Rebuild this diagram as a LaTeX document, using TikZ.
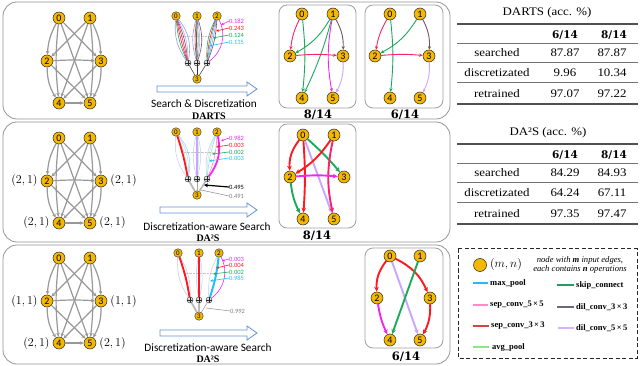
\documentclass[tikz,border=0pt]{standalone}
\usepackage{fontspec}
\usetikzlibrary{arrows.meta,calc,positioning}
\newfontfamily\carl{Carlito}
\newfontfamily\tabf{DejaVu Serif}
\newfontfamily\tabs[FakeStretch=1.12]{Liberation Serif}
\newfontfamily\tser{Liberation Serif}
\definecolor{nodeyellow}{RGB}{245,184,0}
\definecolor{edgegray}{RGB}{152,152,152}
\definecolor{panelgray}{RGB}{150,150,150}
\definecolor{arrblue}{RGB}{100,145,215}
\definecolor{cpink}{RGB}{250,35,105}
\definecolor{cgreen}{RGB}{25,170,90}
\definecolor{cdark}{RGB}{115,85,100}
\definecolor{cmag}{RGB}{240,40,240}
\definecolor{clav}{RGB}{200,165,255}
\definecolor{cred}{RGB}{255,25,30}
\definecolor{ccyan}{RGB}{40,190,245}
\definecolor{lblue}{RGB}{135,165,225}
\definecolor{lgreen}{RGB}{140,225,140}
\definecolor{lgpool}{RGB}{140,230,140}
\definecolor{lgmax}{RGB}{45,185,240}
\definecolor{lgskip}{RGB}{30,160,95}
\definecolor{lgsepfive}{RGB}{255,140,200}
\definecolor{lgdilthree}{RGB}{105,105,120}
\definecolor{lgsepthree}{RGB}{210,70,70}
\definecolor{lgdilfive}{RGB}{210,180,255}
\definecolor{rulegray}{RGB}{80,80,80}
\tikzset{
  gnode/.style={circle, draw=black!85, fill=nodeyellow, line width=0.5pt, minimum size=12pt, inner sep=0pt, font=\carl\fontsize{10}{10}\selectfont},
  snode/.style={circle, draw=black!85, fill=nodeyellow, line width=0.4pt, minimum size=8.5pt, inner sep=0pt, font=\carl\fontsize{7}{7}\selectfont},
  pnode/.style={circle, draw=black!85, fill=gray!25, line width=0.4pt, minimum size=6pt, inner sep=0pt, path picture={\draw[black!85,line width=0.35pt] (path picture bounding box.north) -- (path picture bounding box.south) (path picture bounding box.west) -- (path picture bounding box.east);}},
  fulledge/.style={edgegray, line width=1.2pt, -{Stealth[length=4pt,width=3.6pt]}},
  thinedge/.style={line width=0.9pt, -{Stealth[length=3.6pt,width=3.2pt]}},
  thickedge/.style={line width=1.9pt, -{Stealth[length=5pt,width=4.6pt]}},
  panel/.style={draw=panelgray, line width=0.8pt, rounded corners=14pt},
  subbox/.style={draw=gray!75, line width=0.8pt, rounded corners=8pt},
  bigarrow/.style={draw=arrblue, line width=0.8pt, fill=white},
  optext/.style={font=\carl\fontsize{11.3}{12}\selectfont, inner sep=0pt},
  methtext/.style={font=\tser\bfseries\fontsize{10}{10}\selectfont, inner sep=0pt},
  fractext/.style={font=\tabf\bfseries\fontsize{11.5}{12}\selectfont, inner sep=0pt},
  wlabel/.style={anchor=west, inner sep=0pt, font=\carl\fontsize{6.5}{6.5}\selectfont},
  warrow/.style={line width=0.6pt, -{Stealth[length=3pt,width=2.6pt]}},
  mlabel/.style={inner sep=0pt, font=\fontsize{13}{13}\selectfont},
  tabtext/.style={inner sep=0pt, font=\tabs\fontsize{11.5}{12}\selectfont},
  tabhead/.style={inner sep=0pt, font=\tabf\bfseries\fontsize{10.5}{11}\selectfont},
  toprulestyle/.style={rulegray, line width=1.1pt},
  midrulestyle/.style={rulegray!80, line width=0.8pt},
  legline/.style={line width=1.3pt},
  legtext/.style={anchor=west, inner sep=0pt, font=\tser\bfseries\fontsize{8.5}{9}\selectfont},
  legital/.style={inner sep=0pt, font=\tser\itshape\fontsize{8.6}{9}\selectfont},
  faint/.style={line width=0.5pt, opacity=0.55},
}
\newcommand\fullgraph[2]{%
  \node[gnode] (#1n0) at (59,-#2) {0};
  \node[gnode] (#1n1) at (90,-#2) {1};
  \node[gnode] (#1n2) at (47,{-#2-43}) {2};
  \node[gnode] (#1n3) at (101,{-#2-43}) {3};
  \node[gnode] (#1n4) at (59,{-#2-85}) {4};
  \node[gnode] (#1n5) at (90,{-#2-85}) {5};
  \draw[fulledge] (#1n0) to[bend right=12] (#1n2);
  \draw[fulledge] (#1n0) -- (#1n3);
  \draw[fulledge] (#1n0) to[bend right=6] (#1n4);
  \draw[fulledge] (#1n0) -- (#1n5);
  \draw[fulledge] (#1n1) -- (#1n2);
  \draw[fulledge] (#1n1) to[bend left=12] (#1n3);
  \draw[fulledge] (#1n1) -- (#1n4);
  \draw[fulledge] (#1n1) to[bend left=6] (#1n5);
  \draw[fulledge] (#1n2) to[bend left=3] (#1n3);
  \draw[fulledge] (#1n2) to[bend right=15] (#1n4);
  \draw[fulledge] (#1n2) -- (#1n5);
  \draw[fulledge] (#1n3) -- (#1n4);
  \draw[fulledge] (#1n3) to[bend left=15] (#1n5);
  \draw[fulledge] (#1n4) -- (#1n5);
}
\newcommand\cellnodes[3]{%
  \node[snode] (#1t0) at ({#2-21},-#3) {0};
  \node[snode] (#1t1) at (#2,-#3) {1};
  \node[snode] (#1t2) at ({#2+20},-#3) {2};
  \node[pnode] (#1p0) at ({#2-9},{-#3-47}) {};
  \node[pnode] (#1p1) at (#2,{-#3-47}) {};
  \node[pnode] (#1p2) at ({#2+10},{-#3-47}) {};
  \node[snode] (#1o) at (#2,{-#3-63}) {3};
  \draw[gray!45, densely dotted, line width=0.4pt] ($(#1t0)!0.42!(#1p0)$) -- ($(#1t2)!0.42!(#1p2)$);
}
\newcommand\boxnodes[6]{%
  \node[gnode] (#1n0) at (#2,-#6) {0};
  \node[gnode] (#1n1) at (#3,-#6) {1};
  \node[gnode] (#1n2) at (#4,{-#6-42}) {2};
  \node[gnode] (#1n3) at (#5,{-#6-42}) {3};
  \node[gnode] (#1n4) at (#2,{-#6-84}) {4};
  \node[gnode] (#1n5) at (#3,{-#6-84}) {5};
}
\begin{document}
\begin{tikzpicture}[x=1pt,y=1pt]
\fill[white] (0,0) rectangle (640,-366);
\useasboundingbox (0,0) rectangle (640,-366);
% panels
\draw[panel] (3,-2) rectangle (450,-119);
\draw[panel] (3,-122) rectangle (450,-242);
\draw[panel] (3,-245) rectangle (450,-364);
% full graphs
\fullgraph{pa}{18}
\fullgraph{pb}{138}
\fullgraph{pc}{258}
\node[mlabel, left=3pt of pbn2] (pbl2) {$(2,1)$};
\node[mlabel, right=3pt of pbn3] (pbl3) {$(2,1)$};
\node[mlabel, left=3pt of pbn4] (pbl4) {$(2,1)$};
\node[mlabel, right=3pt of pbn5] (pbl5) {$(2,1)$};
\node[mlabel, left=3pt of pcn2] (pcl2) {$(1,1)$};
\node[mlabel, right=3pt of pcn3] (pcl3) {$(1,1)$};
\node[mlabel, left=3pt of pcn4] (pcl4) {$(2,1)$};
\node[mlabel, right=3pt of pcn5] (pcl5) {$(2,1)$};
% ---------- cell 1 (DARTS)
\cellnodes{ca}{197}{16}
\foreach \cc/\bb in {lblue/-20,cgreen/-10,cred/-4,cpink/2,cdark/8,clav/14,lblue/24}
  \draw[\cc, line width=0.6pt] (cat0) to[bend left=\bb] (cap0);
\foreach \cc/\bb in {lblue/-16,cred/-7,cdark/-2,cgreen/4,clav/10,cdark/18}
  \draw[\cc, line width=0.6pt] (cat1) to[bend left=\bb] (cap1);
\foreach \cc/\bb in {cgreen/-14,cred/-8,ccyan/-3,lblue/3,cdark/9,cmag/40}
  \draw[\cc, line width=0.6pt] (cat2) to[bend left=\bb] (cap2);
\draw[black!80, line width=0.5pt] (cap0) -- (cao);
\draw[black!80, line width=0.5pt] (cap1) -- (cao);
\draw[black!80, line width=0.5pt] (cap2) -- (cao);
\node[wlabel, text=cmag] (cal1) at (229,-21) {0.182};
\node[wlabel, text=cred] (cal2) at (229,-28) {0.243};
\node[wlabel, text=cgreen] (cal3) at (229,-35) {0.124};
\node[wlabel, text=ccyan] (cal4) at (229,-42) {0.135};
\coordinate (caa1) at (221,-25);
\coordinate (caa2) at (216,-31);
\coordinate (caa3) at (213,-38);
\coordinate (caa4) at (209,-46);
\draw[warrow, cmag] (cal1.west) -- (caa1);
\draw[warrow, cred] (cal2.west) -- (caa2);
\draw[warrow, cgreen] (cal3.west) -- (caa3);
\draw[warrow, ccyan] (cal4.west) -- (caa4);
% ---------- cell 2 (DA2S)
\cellnodes{cb}{197}{132}
\foreach \cc/\bb in {lblue/-20,lblue/18,lgreen/10,ccyan/25}
  \draw[\cc, faint] (cbt0) to[bend left=\bb] (cbp0);
\draw[cred, line width=1.8pt] (cbt0) to[bend left=4] (cbp0);
\foreach \cc/\bb in {lblue/-14,lblue/14,lgreen/6}
  \draw[\cc, faint] (cbt1) to[bend left=\bb] (cbp1);
\draw[clav, line width=1.6pt] (cbt1) -- (cbp1);
\foreach \cc/\bb in {ccyan/-6,lgreen/-12,lblue/-18,cpink/10}
  \draw[\cc, faint] (cbt2) to[bend left=\bb] (cbp2);
\draw[cmag, line width=1.8pt] (cbt2) to[bend left=24] (cbp2);
\draw[gray!55, line width=1.8pt] (cbp0) -- (cbo);
\draw[gray!70, line width=0.6pt] (cbp1) -- (cbo);
\draw[gray!55, line width=1.6pt] (cbp2) -- (cbo);
\node[wlabel, text=cmag] (cbl1) at (229,-138) {0.982};
\node[wlabel, text=cred] (cbl2) at (229,-145) {0.003};
\node[wlabel, text=cgreen] (cbl3) at (229,-152) {0.002};
\node[wlabel, text=ccyan] (cbl4) at (229,-158) {0.003};
\node[wlabel, text=black] (cbl5) at (229,-187) {0.495};
\node[wlabel, text=gray] (cbl6) at (229,-196) {0.491};
\coordinate (cba1) at (221,-141);
\coordinate (cba2) at (216,-147);
\coordinate (cba3) at (212,-154);
\coordinate (cba4) at (209,-161);
\coordinate (cba5) at (204,-185);
\coordinate (cba6) at (201,-190);
\draw[warrow, cmag] (cbl1.west) -- (cba1);
\draw[warrow, cred] (cbl2.west) -- (cba2);
\draw[warrow, cgreen] (cbl3.west) -- (cba3);
\draw[warrow, ccyan] (cbl4.west) -- (cba4);
\draw[black, line width=1.2pt, -{Stealth[length=4pt,width=4pt]}] (cbl5.west) -- (cba5);
\draw[gray!80, line width=0.6pt] (cbl6.west) -- (cba6);
% ---------- cell 3 (DA2S)
\cellnodes{cc}{199}{253}
\foreach \cc/\bb in {lblue/-18,lblue/16}
  \draw[\cc, faint] (cct0) to[bend left=\bb] (ccp0);
\draw[cred, line width=1.9pt] (cct0) to[bend left=5] (ccp0);
\foreach \cc/\bb in {lblue/-10,lblue/12}
  \draw[\cc, faint] (cct1) to[bend left=\bb] (ccp1);
\draw[cred, line width=1.9pt] (cct1) -- (ccp1);
\draw[lblue, faint] (cct2) to[bend left=-15] (ccp2);
\draw[cmag, line width=0.6pt] (cct2) to[bend left=40] (ccp2);
\draw[ccyan, line width=2pt] (cct2) to[bend left=6] (ccp2);
\draw[gray!55, line width=1.8pt] (ccp0) -- (cco);
\draw[gray!55, line width=1.8pt] (ccp1) -- (cco);
\draw[gray!70, line width=0.6pt] (ccp2) -- (cco);
\node[wlabel, text=cmag] (ccl1) at (229,-259) {0.003};
\node[wlabel, text=cred] (ccl2) at (229,-265) {0.004};
\node[wlabel, text=cgreen] (ccl3) at (229,-272) {0.002};
\node[wlabel, text=ccyan] (ccl4) at (229,-278) {0.985};
\node[wlabel, text=gray] (ccl5) at (230,-311) {0.992};
\coordinate (cca1) at (222,-261);
\coordinate (cca2) at (216,-268);
\coordinate (cca3) at (213,-274);
\coordinate (cca4) at (210,-281);
\coordinate (cca5) at (206,-308);
\draw[warrow, cmag] (ccl1.west) -- (cca1);
\draw[warrow, cred] (ccl2.west) -- (cca2);
\draw[warrow, cgreen] (ccl3.west) -- (cca3);
\draw[warrow, ccyan] (ccl4.west) -- (cca4);
\draw[gray!80, line width=0.6pt] (ccl5.west) -- (cca5);
% ---------- big arrows and texts
\draw[bigarrow] (157,-86) -- (247,-86) -- (247,-82) -- (257,-89) -- (247,-96) -- (247,-92) -- (157,-92) -- cycle;
\draw[bigarrow] (160,-207) -- (247,-207) -- (247,-203) -- (257,-210) -- (247,-217) -- (247,-213) -- (160,-213) -- cycle;
\draw[bigarrow] (160,-330) -- (247,-330) -- (247,-326) -- (257,-333) -- (247,-340) -- (247,-336) -- (160,-336) -- cycle;
\node[optext] (ta1) at (204,-104) {Search \& Discretization};
\node[methtext] (tm1) at (209,-116) {DARTS};
\node[optext] (ta2) at (207,-227) {Discretization-aware Search};
\node[methtext] (tm2) at (208,-238) {DA²S};
\node[optext] (ta3) at (208,-348) {Discretization-aware Search};
\node[methtext] (tm3) at (208,-359) {DA²S};
% ---------- sub boxes
\draw[subbox] (279,-5) rectangle (356,-108);
\draw[subbox] (365,-5) rectangle (443,-108);
\draw[subbox] (279,-124) rectangle (356,-228);
\draw[subbox] (365,-248) rectangle (443,-348);
\boxnodes{ba}{302}{333}{290}{343}{14}
\boxnodes{bb}{390}{420}{375}{429}{14}
\boxnodes{bc}{303}{334}{290}{344}{135}
\boxnodes{bd}{390}{420}{377}{430}{256}
\draw[thinedge,cpink] (ban0) to[bend right=10] (ban2);
\draw[thinedge,cgreen] (ban0) to[bend left=6] (ban4);
\draw[thinedge,cgreen] (ban1) to[bend left=15] (ban2);
\draw[thinedge,cgreen] (ban1) to[bend left=5] (ban4);
\draw[thinedge,cdark] (ban1) to[bend left=15] (ban3);
\draw[thinedge,cmag] (ban1) to[bend right=10] (ban5);
\draw[thinedge,cpink] (ban2) to[bend left=5] (ban3);
\draw[thinedge,clav] (ban3) to[bend left=15] (ban5);
\draw[thinedge,cpink] (bbn0) to[bend right=10] (bbn2);
\draw[thinedge,cgreen] (bbn0) to[bend left=6] (bbn4);
\draw[thinedge,cgreen] (bbn1) to[bend left=15] (bbn2);
\draw[thinedge,cdark] (bbn1) to[bend left=15] (bbn3);
\draw[thinedge,cpink] (bbn2) to[bend left=5] (bbn3);
\draw[thinedge,clav] (bbn3) to[bend left=15] (bbn5);
\draw[thickedge,cred] (bcn0) to[bend right=20] (bcn2);
\draw[thickedge,cred] (bcn0) to[bend left=4] (bcn4);
\draw[thickedge,cgreen] (bcn0) to[bend left=4] (bcn3);
\draw[thickedge,clav] (bcn0) -- (bcn5);
\draw[thickedge,cred] (bcn1) to[bend left=12] (bcn2);
\draw[thickedge,cpink] (bcn1) to[bend right=12] (bcn5);
\draw[thickedge,cmag] (bcn2) to[bend left=5] (bcn3);
\draw[thickedge,cgreen] (bcn2) to[bend right=10] (bcn4);
\draw[thickedge,cred] (bdn0) to[bend right=20] (bdn2);
\draw[thickedge,cred] (bdn0) to[bend left=20] (bdn3);
\draw[thickedge,clav] (bdn0) -- (bdn5);
\draw[thickedge,cgreen] (bdn1) -- (bdn4);
\draw[thickedge,cmag] (bdn2) to[bend right=8] (bdn4);
\draw[thickedge,cred] (bdn3) to[bend left=15] (bdn5);
\node[fractext] (fa) at (318,-115) {8/14};
\node[fractext] (fb) at (405,-115) {6/14};
\node[fractext] (fc) at (317,-236) {8/14};
\node[fractext] (fd) at (406,-357) {6/14};
% ---------- table 1
\node[tabtext] (t1t) at (547,-13) {DARTS (acc. \%)};
\draw[toprulestyle] (457,-24) -- (638,-24);
\node[tabhead] (t1h1) at (565,-35) {6/14};
\node[tabhead] (t1h2) at (614,-35) {8/14};
\draw[midrulestyle] (457,-43) -- (638,-43);
\node[tabtext] (t1r1) at (497,-53) {searched};
\node[tabtext] (t1r1a) at (565,-53) {87.87};
\node[tabtext] (t1r1b) at (612,-53) {87.87};
\draw[midrulestyle] (457,-62) -- (638,-62);
\node[tabtext] (t1r2) at (497,-73) {discretizated};
\node[tabtext] (t1r2a) at (565,-73) {9.96};
\node[tabtext] (t1r2b) at (612,-73) {10.34};
\draw[midrulestyle] (457,-82.5) -- (638,-82.5);
\node[tabtext] (t1r3) at (497,-93.5) {retrained};
\node[tabtext] (t1r3a) at (565,-93.5) {97.07};
\node[tabtext] (t1r3b) at (612,-93.5) {97.22};
\draw[toprulestyle] (457,-104) -- (638,-104);
% ---------- table 2
\node[tabtext] (t2t) at (548,-133) {DA²S (acc. \%)};
\draw[toprulestyle] (457,-144) -- (638,-144);
\node[tabhead] (t2h1) at (565,-155) {6/14};
\node[tabhead] (t2h2) at (614,-155) {8/14};
\draw[midrulestyle] (457,-163) -- (638,-163);
\node[tabtext] (t2r1) at (497,-173) {searched};
\node[tabtext] (t2r1a) at (565,-173) {84.29};
\node[tabtext] (t2r1b) at (612,-173) {84.93};
\draw[midrulestyle] (457,-182) -- (638,-182);
\node[tabtext] (t2r2) at (497,-193) {discretizated};
\node[tabtext] (t2r2a) at (565,-193) {64.24};
\node[tabtext] (t2r2b) at (612,-193) {67.11};
\draw[midrulestyle] (457,-202.5) -- (638,-202.5);
\node[tabtext] (t2r3) at (497,-213.5) {retrained};
\node[tabtext] (t2r3a) at (565,-213.5) {97.35};
\node[tabtext] (t2r3b) at (612,-213.5) {97.47};
\draw[toprulestyle] (457,-224) -- (638,-224);
% ---------- legend
\draw[black!85, line width=1pt, dash pattern=on 4pt off 2.5pt] (458,-249) rectangle (637,-358);
\node[circle, draw=black!85, fill=nodeyellow, minimum size=13pt, inner sep=0pt, line width=0.5pt] (legc) at (480,-265) {};
\node[inner sep=0pt, font=\fontsize{12.5}{12.5}\selectfont] (legmn) at (506,-265) {$(m,n)$};
\node[legital] (legd1) at (580,-260) {node with \textbf{m} input edges,};
\node[legital] (legd2) at (580,-269.5) {each contains \textbf{n} operations};
\draw[legline, lgmax] (473,-283) -- (488,-283);
\node[legtext] (lg1) at (490,-283) {max\_pool};
\draw[legline, lgskip] (557,-285) -- (574,-285);
\node[legtext] (lg2) at (576,-285) {skip\_connect};
\draw[legline, lgsepfive] (473,-305) -- (488,-305);
\node[legtext] (lg3) at (490,-305) {sep\_conv\_5\,×\,5};
\draw[legline, lgdilthree] (557,-307) -- (574,-307);
\node[legtext] (lg4) at (576,-307) {dil\_conv\_3\,×\,3};
\draw[legline, lgsepthree] (473,-326) -- (489,-326);
\node[legtext] (lg5) at (491,-326) {sep\_conv\_3\,×\,3};
\draw[legline, lgdilfive] (558,-328) -- (574,-328);
\node[legtext] (lg6) at (576,-328) {dil\_conv\_5\,×\,5};
\draw[legline, lgpool] (473,-347) -- (489,-347);
\node[legtext] (lg7) at (492,-347) {avg\_pool};
\end{tikzpicture}
\end{document}
